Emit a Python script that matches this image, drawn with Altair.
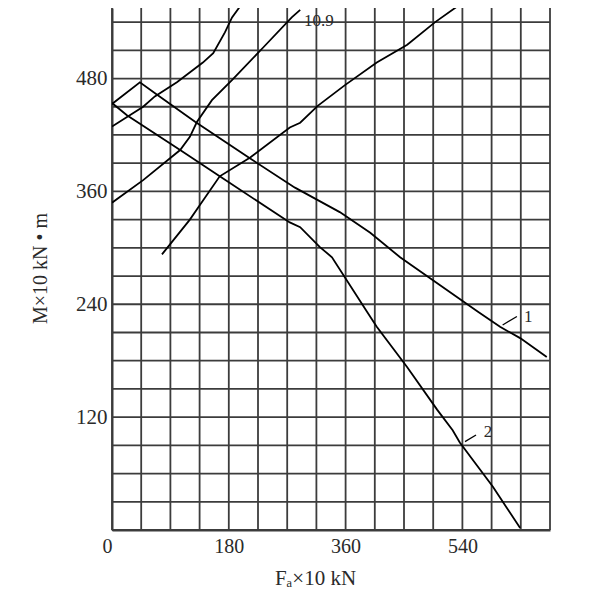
import altair as alt
import pandas as pd

# grid values
x_grid = list(range(0, 676, 45))
y_grid = list(range(0, 541, 30))
# tick labels
x_ticks = [0, 180, 360, 540]
y_ticks = [120, 240, 360, 480]

# curve 1
c1_x = [0, 43, 69, 128, 213, 282, 351, 398, 444, 564, 598, 629, 670]
c1_y = [453, 476, 463, 434, 395, 364, 338, 316, 290, 232, 216, 204, 184]
# curve 2
c2_x = [0, 23, 105, 166, 274, 290, 320, 339, 393, 408, 455, 501, 525, 536, 587, 629]
c2_y = [454, 441, 404, 376, 327, 322, 301, 290, 232, 216, 173, 128, 106, 93, 46, 2]
# upper-left curve
ca_x = [0, 48, 66, 100, 140, 156, 174, 185, 205]
ca_y = [429, 450, 461, 476, 497, 507, 529, 545, 564]
# curve 10.9
cb_x = [0, 48, 105, 120, 131, 154, 186, 233, 277, 290]
cb_y = [348, 372, 404, 418, 434, 457, 479, 513, 545, 553]
# long rising curve
cc_x = [77, 120, 136, 166, 213, 274, 290, 317, 359, 408, 455, 498, 547]
cc_y = [293, 330, 346, 376, 396, 428, 433, 451, 473, 497, 516, 540, 564]

# curve labels
lab_text = ["10.9", "1", "2"]
lab_x = [296, 635, 573]
lab_y = [541, 226, 104]
# leader lines
lead_x = [602, 544]
lead_y = [218, 94]
lead_x2 = [624, 561]
lead_y2 = [227, 101]

rows = []
for name, xs, ys in [("1", c1_x, c1_y), ("2", c2_x, c2_y), ("a", ca_x, ca_y),
                     ("b", cb_x, cb_y), ("c", cc_x, cc_y)]:
    for i, (xv, yv) in enumerate(zip(xs, ys)):
        rows.append({"series": name, "x": xv, "y": yv, "order": i})
df = pd.DataFrame(rows)
labels = pd.DataFrame({"text": lab_text, "x": lab_x, "y": lab_y})
leaders = pd.DataFrame({"x": lead_x, "y": lead_y, "x2": lead_x2, "y2": lead_y2})
vgrid = pd.DataFrame({"x": x_grid})
hgrid = pd.DataFrame({"y": y_grid})

FONT = "Liberation Serif"
GRID = "#3c3c3c"
TXT = "#2a2a2a"

xscale = alt.Scale(domain=[0, 675], nice=False, zero=False)
yscale = alt.Scale(domain=[0, 555], nice=False, zero=False)

xaxis = alt.Axis(
    values=x_ticks,
    labelAlign=alt.expr("datum.value == 0 ? 'right' : 'center'"),
    grid=False, domainColor=GRID, domainWidth=2, ticks=False,
    labelFont=FONT, labelFontSize=20, labelColor=TXT, labelPadding=6,
    labelOverlap=False,
    title="Fₐ×10   kN", titleFont=FONT, titleFontSize=21, titleFontWeight="normal",
    titleColor=TXT, titleX=203, titleY=48, titleAlign="center",
    titleBaseline="middle",
)
yaxis = alt.Axis(
    values=y_ticks,
    grid=False, domainColor=GRID, domainWidth=2, ticks=False,
    labelFont=FONT, labelFontSize=21, labelColor=TXT, labelPadding=5,
    labelBaseline="middle", labelOverlap=False,
    title="M×10 kN • m", titleFont=FONT, titleFontSize=20, titleFontWeight="normal",
    titleColor=TXT, titleX=-72, titleY=260, titleAlign="center",
    titleBaseline="middle", titleAngle=270,
)

vlines = alt.Chart(vgrid).mark_rule(color=GRID, strokeWidth=1.8).encode(
    x=alt.X("x:Q", scale=xscale, axis=xaxis),
)
hlines = alt.Chart(hgrid).mark_rule(color=GRID, strokeWidth=1.8).encode(
    y=alt.Y("y:Q", scale=yscale, axis=yaxis),
)

lines = alt.Chart(df).mark_line(color="black", strokeWidth=1.8, clip=True).encode(
    x=alt.X("x:Q", scale=xscale),
    y=alt.Y("y:Q", scale=yscale),
    detail="series:N",
    order="order:Q",
)

texts = alt.Chart(labels).mark_text(
    font=FONT, fontSize=17, align="left", baseline="middle", color=TXT
).encode(
    x=alt.X("x:Q", scale=xscale),
    y=alt.Y("y:Q", scale=yscale),
    text="text:N",
)

leads = alt.Chart(leaders).mark_rule(color="black", strokeWidth=1.3).encode(
    x=alt.X("x:Q", scale=xscale),
    y=alt.Y("y:Q", scale=yscale),
    x2="x2:Q",
    y2="y2:Q",
)

chart = alt.layer(vlines, hlines, lines, leads, texts).properties(
    width=438, height=522,
    autosize=alt.AutoSizeParams(type="none"),
    padding={"left": 104, "top": 0, "right": 40, "bottom": 62},
    background="white",
).configure_view(strokeWidth=0)

chart.save("out.html", embed_options={"renderer": "svg", "actions": False})
